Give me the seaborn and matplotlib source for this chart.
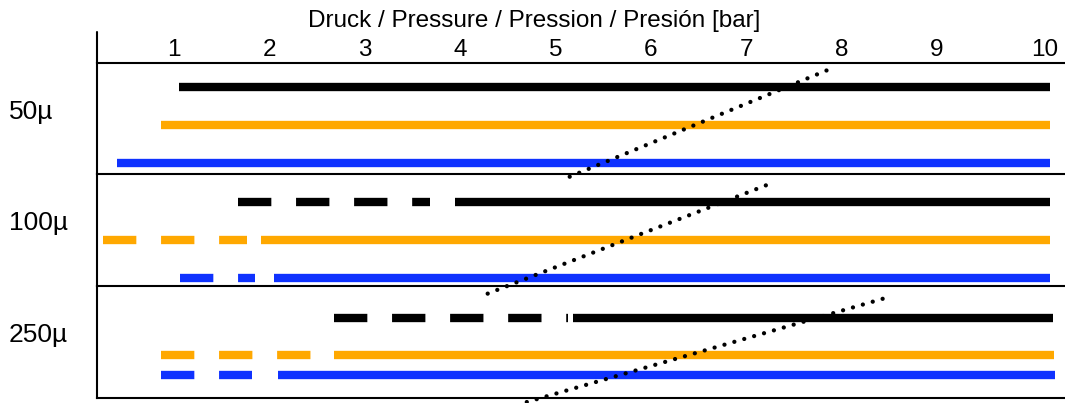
import numpy as np
import pandas as pd
import matplotlib
matplotlib.use("Agg")
import matplotlib.pyplot as plt
from matplotlib.lines import Line2D
from matplotlib.transforms import ScaledTranslation
import seaborn as sns

# ---------------- data ----------------
rows = ["50µ", "100µ", "250µ"]
series = ["Black", "Orange", "Blue"]
x_ticks = [1, 2, 3, 4, 5, 6, 7, 8, 9, 10]
x_label = "Druck / Pressure / Pression / Presión [bar]"

nan = np.nan
# per row: values for [Black, Orange, Blue]
solid_start = [[1.05, 0.86, 0.40],
               [3.95, 1.91, 2.05],
               [5.18, 2.68, 2.09]]
solid_end = [[10.19, 10.19, 10.19],
             [10.19, 10.19, 10.19],
             [10.22, 10.23, 10.24]]
dashed_start = [[nan, nan, nan],
                [1.67, 0.26, 1.06],
                [2.68, 0.86, 0.86]]
dashed_end = [[nan, nan, nan],
              [3.69, 1.77, 1.85],
              [5.13, 2.44, 1.82]]
# dotted diagonal per row: x (bar) and y (relative position in row band, 0=top)
trend_x = [[5.15, 7.93], [4.29, 7.29], [4.70, 8.53]]
trend_y = [[1.021, 0.039], [1.068, 0.071], [1.039, 0.090]]

# ---------------- style / layout ----------------
palette = {"Black": "#000000", "Orange": "#ffa800", "Blue": "#0f32ff"}
lane_pos = [[0.215, 0.558, 0.901],
            [0.245, 0.587, 0.932],
            [0.282, 0.622, 0.795]]

sns.set_theme(style="white")
plt.rcParams["font.family"] = ["Liberation Sans", "DejaVu Sans"]
plt.rcParams["lines.scale_dashes"] = False
for k in ["text.color", "axes.labelcolor", "xtick.color", "ytick.color"]:
    plt.rcParams[k] = "black"

W, H = 1065, 403
fig, axes = plt.subplots(3, 1, figsize=(W / 100, H / 100), dpi=100, sharex=True)
fig.patch.set_facecolor("white")
fig.subplots_adjust(left=97 / W, right=1.0, top=1 - 62.7 / H, bottom=1 - 397.7 / H, hspace=0)

for i, ax in enumerate(axes):
    recs = []
    for j, s in enumerate(series):
        y = lane_pos[i][j]
        if not np.isnan(dashed_start[i][j]):
            seg = f"{s}-d"
            recs.append((s, seg, "dashed", dashed_start[i][j], y))
            recs.append((s, seg, "dashed", dashed_end[i][j], y))
        seg = f"{s}-s"
        recs.append((s, seg, "solid", solid_start[i][j], y))
        recs.append((s, seg, "solid", solid_end[i][j], y))
    df = pd.DataFrame(recs, columns=["series", "seg", "kind", "x", "y"])
    sns.lineplot(data=df, x="x", y="y", hue="series", style="kind", units="seg",
                 estimator=None, sort=False, palette=palette,
                 dashes={"solid": "", "dashed": (24.0, 17.8)},
                 style_order=["solid", "dashed"],
                 lw=6, legend=False, ax=ax,
                 solid_capstyle="butt", dash_capstyle="butt", zorder=2)

    sns.lineplot(x=trend_x[i], y=trend_y[i], ax=ax, color="black", lw=3.1,
                 linestyle=(0, (0.01, 7.4)), dash_capstyle="round",
                 solid_capstyle="round", clip_on=False, zorder=6, sort=False)

    ax.set_xlim(0.193, 10.344)
    ax.set_ylim(1, 0)
    ax.set_xlabel("")
    ax.set_ylabel("")
    ax.patch.set_visible(False)
    for side in ["top", "left", "bottom", "right"]:
        ax.spines[side].set_color("black")
        ax.spines[side].set_linewidth(1.5)
    ax.spines["right"].set_visible(False)
    ax.spines["bottom"].set_visible(i == 2)

    ax.set_yticks([0.415])
    ax.set_yticklabels([rows[i]])
    ax.tick_params(axis="y", length=0, pad=63.7, labelsize=19)
    for lab in ax.get_yticklabels():
        lab.set_horizontalalignment("left")
        lab.set_verticalalignment("center_baseline")

    if i == 0:
        ax.xaxis.tick_top()
        ax.set_xticks(x_ticks)
        ax.set_xticklabels([str(t) for t in x_ticks])
        ax.tick_params(axis="x", top=True, labeltop=True, bottom=False,
                       labelbottom=False, length=0, pad=1.2, labelsize=17.5)
        # last label sits a little further right in the original
        last = ax.get_xticklabels()[-1]
        last.set_transform(last.get_transform() + ScaledTranslation(12 / 100, 0, fig.dpi_scale_trans))
    else:
        ax.tick_params(axis="x", top=False, labeltop=False, bottom=False,
                       labelbottom=False, length=0)

# left axis line extends above the plot area
fig.add_artist(Line2D([97 / W, 97 / W], [1 - 32 / H, 1 - 62.7 / H],
                      transform=fig.transFigure, color="black", lw=1.5))

fig.text(534.5 / W, 1 - 27 / H, x_label, ha="center", va="baseline", fontsize=17.5)

fig.savefig("out.png", dpi=100, facecolor="white")
